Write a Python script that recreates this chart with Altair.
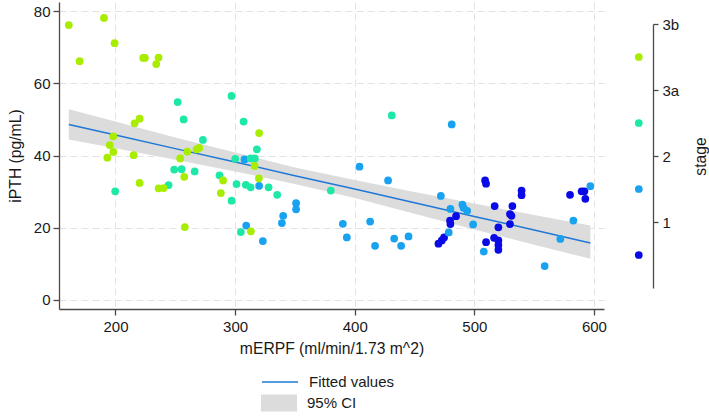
import altair as alt
import pandas as pd

FONT = "Liberation Sans"
TXT = "#1a1a1a"
AX = "#4a4a4a"

stage_order = ["1", "2", "3a", "3b"]
stage_colors = ["#0a0ae6", "#18a2f0", "#1de8a8", "#a8ec00"]
stage_pos = [0.5, 1.5, 2.5, 3.5]

# stage 3b
x_3b = [161, 190.4, 170, 199.3, 223.2, 224.6, 236, 234.1, 220.2, 216, 198.2, 195.2, 198.2, 193.2,
        215.2, 254.1, 257.5, 220.2, 236.1, 240.3, 258, 320.1, 270, 267.8, 260, 316.3, 319.9, 290,
        288.1, 313.2]
y_3b = [76.1, 78.1, 66.1, 71.1, 67.0, 67.0, 67.1, 65.3, 50.2, 48.9, 45.3, 42.9, 41.0, 39.4,
        40.1, 39.2, 34.1, 32.4, 30.9, 31.0, 20.2, 46.2, 42.1, 41.7, 41.1, 37.1, 33.7, 33.1,
        29.6, 19.0]
# stage 3a
x_3a = [252, 257, 249.1, 255.3, 199.8, 244.4, 297, 307.1, 273.1, 318.2, 300.1, 313, 316.5, 266.2,
        287, 297.1, 301.2, 309, 313, 328, 335.2, 380, 304.8, 431]
y_3a = [54.8, 50.0, 36.1, 36.2, 30.1, 31.8, 56.5, 49.4, 44.3, 41.7, 39.1, 39.2, 39.2, 35.6,
        34.5, 27.5, 32.1, 31.9, 31.2, 31.2, 29.1, 30.3, 18.8, 51.1]
# stage 2
x_2 = [307.9, 320.1, 351, 351, 340.2, 339.1, 390.1, 393.4, 309.3, 323.2, 481.1, 404, 427.9, 472,
       480, 490, 491, 494, 478.6, 412.9, 417, 433, 438.8, 445, 597, 499, 507.9, 582.8, 571.9, 558.8]
y_2 = [38.9, 31.6, 26.8, 25.1, 23.3, 21.3, 21.1, 17.3, 20.6, 16.3, 48.6, 36.9, 33.1, 28.8,
       25.2, 26.4, 25.5, 24.7, 18.7, 21.7, 15.0, 17.0, 15.0, 17.6, 31.5, 20.9, 13.4, 22.0, 16.9, 9.4]
# stage 1
x_1 = [484.7, 479.7, 480, 474.7, 472.8, 470, 509, 509.8, 539.5, 539.5, 580, 589.7, 592, 592.8,
       517, 531.8, 529.8, 531, 529.8, 520.1, 516.5, 520.1, 520.1, 520.1, 509.8]
y_1 = [23.2, 22.0, 21.0, 17.3, 16.5, 15.6, 33.1, 32.2, 30.3, 29.0, 29.1, 30.1, 30.1, 28.0,
       26.0, 26.0, 23.8, 23.3, 21.0, 20.1, 17.2, 16.5, 15.2, 13.9, 16.0]

# fitted values and 95% CI
fit_x = [161, 200, 250, 300, 350, 400, 450, 500, 550, 597]
fit_y = [48.6, 45.7, 41.9, 38.2, 34.4, 30.7, 26.9, 23.1, 19.4, 15.8]
ci_lo = [44.4, 42.0, 38.8, 35.6, 32.1, 28.2, 23.9, 19.5, 15.3, 11.4]
ci_hi = [52.8, 49.4, 45.0, 40.8, 36.7, 33.2, 29.9, 26.7, 23.5, 20.6]

x_ticks = [200, 300, 400, 500, 600]
y_ticks = [0, 20, 40, 60, 80]

pts = pd.concat([
    pd.DataFrame({"x": x_1, "y": y_1, "stage": "1"}),
    pd.DataFrame({"x": x_2, "y": y_2, "stage": "2"}),
    pd.DataFrame({"x": x_3a, "y": y_3a, "stage": "3a"}),
    pd.DataFrame({"x": x_3b, "y": y_3b, "stage": "3b"}),
], ignore_index=True)
fit = pd.DataFrame({"x": fit_x, "y": fit_y, "lo": ci_lo, "hi": ci_hi,
                    "fit": "Fitted values", "band": "95% CI"})
leg = pd.DataFrame({"stage": stage_order, "pos": stage_pos, "xp": [0.71] * 4})

xs = alt.Scale(domain=[152.8, 608.4], nice=False, zero=False)
ys = alt.Scale(domain=[-2.5, 82.5], nice=False, zero=False)
cs = alt.Scale(domain=stage_order, range=stage_colors)

xaxis = alt.Axis(values=x_ticks, title="mERPF (ml/min/1.73 m^2)", grid=True,
                 gridDash=[7, 4], gridColor="#e3e3e3", tickSize=6, labelPadding=4,
                 titlePadding=7)
yaxis = alt.Axis(values=y_ticks, title="iPTH (pg/mL)", grid=True,
                 gridDash=[7, 4], gridColor="#e3e3e3", tickSize=6, labelPadding=3,
                 titlePadding=10)

band = alt.Chart(fit).mark_area(opacity=1).encode(
    x=alt.X("x:Q", scale=xs, axis=xaxis),
    y=alt.Y("lo:Q", scale=ys, axis=yaxis),
    y2="hi:Q",
    fill=alt.Fill("band:N", scale=alt.Scale(domain=["95% CI"], range=["#dcdcdc"]),
                  legend=alt.Legend(title=None, orient="none", legendX=202, legendY=383,
                                    symbolType="M-1,-0.47H1V0.47H-1Z", symbolSize=1296,
                                    symbolStrokeWidth=0, symbolOpacity=1, labelOffset=10,
                                    padding=0)),
)
line = alt.Chart(fit).mark_line(strokeWidth=1.5).encode(
    x=alt.X("x:Q", scale=xs),
    y=alt.Y("y:Q", scale=ys),
    stroke=alt.Stroke("fit:N", scale=alt.Scale(domain=["Fitted values"], range=["#1f78d6"]),
                      legend=alt.Legend(title=None, orient="none", legendX=202, legendY=361,
                                        symbolType="stroke", symbolSize=1296,
                                        symbolStrokeWidth=1.5, labelOffset=10, padding=0)),
)
dots = alt.Chart(pts).mark_circle(size=60, opacity=1).encode(
    x=alt.X("x:Q", scale=xs),
    y=alt.Y("y:Q", scale=ys),
    color=alt.Color("stage:N", scale=cs, legend=None),
)
main = alt.layer(band, line, dots).properties(width=545, height=307).resolve_scale(
    fill="independent", stroke="independent")

side = alt.Chart(leg).mark_circle(size=60, opacity=1).encode(
    x=alt.X("xp:Q", scale=alt.Scale(domain=[0, 1]), axis=None),
    y=alt.Y("pos:Q", scale=alt.Scale(domain=[0, 4], range=[286, 22]),
            axis=alt.Axis(orient="right", values=[1, 2, 3, 4], title="stage",
                          labelExpr="['','1','2','3a','3b'][datum.value]",
                          grid=False, tickSize=5, labelPadding=4, titlePadding=30,
                          titleAngle=270)),
    color=alt.Color("stage:N", scale=cs, legend=None),
).properties(width=49, height=307)

chart = alt.hconcat(main, side, spacing=0, bounds="flush").properties(
    padding={"left": 7, "top": 2, "right": 0, "bottom": 0}
).configure_view(stroke=None).configure_axis(
    labelFont=FONT, titleFont=FONT, labelFontSize=15, titleFontSize=15.7,
    labelColor=TXT, titleColor=TXT, titleFontWeight="normal",
    domainColor=AX, tickColor=AX, domainWidth=1.3, tickWidth=1.3,
).configure_legend(labelFont=FONT, labelFontSize=15, labelColor=TXT)

chart.save("out.html", embed_options={"renderer": "svg", "actions": False})
